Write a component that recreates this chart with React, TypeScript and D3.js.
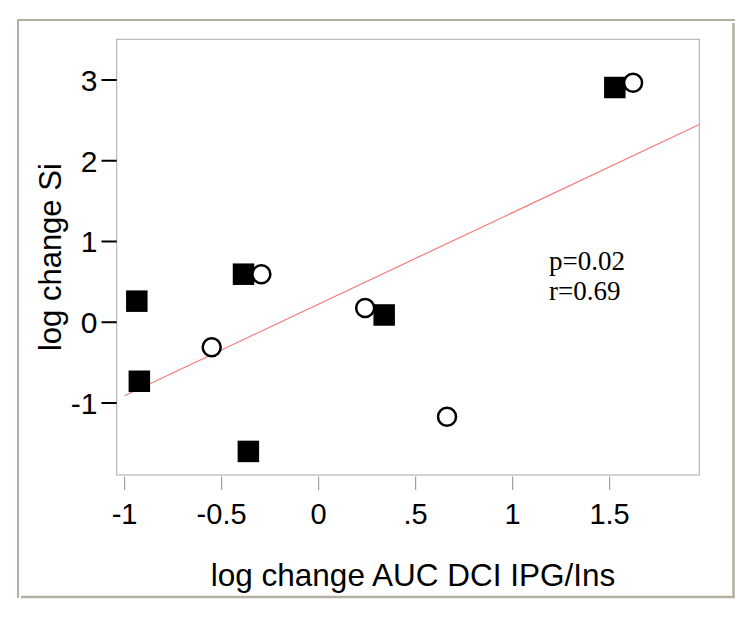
import React from "react";
import * as d3 from "d3";

// Data
const squaresX = [1.527, -0.937, -0.924, -0.387, -0.362, 0.338];
const squaresY = [2.907, 0.261, -0.731, 0.595, -1.6, 0.09];
const circlesX = [1.621, -0.295, -0.551, 0.24, 0.662];
const circlesY = [2.965, 0.594, -0.31, 0.177, -1.17];
const xTicks = [-1, -0.5, 0, 0.5, 1, 1.5];
const xTickLabels = ["-1", "-0.5", "0", ".5", "1", "1.5"];
const yTicks = [3, 2, 1, 0, -1];
const yTickLabels = ["3", "2", "1", "0", "-1"];
const fitIntercept = 0.224;
const fitSlope = 1.134;
const fitStartX = -1.0;
const xDomain = [-1.0407, 1.9624];
const yDomain = [-1.892, 3.504];
const statLines = ["p=0.02", "r=0.69"];

const W = 750;
const H = 624;
const plot = { left: 116.7, right: 699.3, top: 39.3, bottom: 475 };

export default function App() {
  const x = d3.scaleLinear().domain(xDomain).range([plot.left, plot.right]);
  const y = d3.scaleLinear().domain(yDomain).range([plot.bottom, plot.top]);
  const sq = 21.5;
  const frame = "#b3afa3";
  const line = d3
    .line<number>()
    .x((d) => x(d))
    .y((d) => y(fitIntercept + fitSlope * d));
  const sans = "'Liberation Sans', Arial, sans-serif";
  return (
    <svg
      width={W}
      height={H}
      style={{ position: "absolute", left: 0, top: 0, background: "#fff" }}
    >
      <rect x={0} y={0} width={W} height={H} fill="#fff" />
      {/* outer frame */}
      <line x1={17} x2={735} y1={20} y2={20} stroke={frame} strokeWidth={2} />
      <line x1={18} x2={18} y1={20} y2={598} stroke={frame} strokeWidth={2} />
      <line x1={733.5} x2={733.5} y1={23} y2={598} stroke={frame} strokeWidth={2.5} />
      <line x1={21} x2={735} y1={597} y2={597} stroke={frame} strokeWidth={2.5} />
      {/* plot frame */}
      <rect
        x={plot.left}
        y={plot.top}
        width={plot.right - plot.left}
        height={plot.bottom - plot.top}
        fill="none"
        stroke="#a9a9a9"
        strokeWidth={1}
      />
      {/* y axis */}
      {yTicks.map((t, i) => (
        <g key={"y" + i}>
          <line x1={101.5} x2={plot.left} y1={y(t)} y2={y(t)} stroke="#000" strokeWidth={2} />
          <text
            x={97.5}
            y={y(t)}
            dy="0.36em"
            textAnchor="end"
            fontFamily={sans}
            fontSize={30}
          >
            {yTickLabels[i]}
          </text>
        </g>
      ))}
      {/* x axis */}
      {xTicks.map((t, i) => (
        <g key={"x" + i}>
          <line x1={x(t)} x2={x(t)} y1={476.5} y2={490} stroke="#a0a0a0" strokeWidth={1.2} />
          <text
            x={x(t)}
            y={524}
            textAnchor="middle"
            fontFamily={sans}
            fontSize={29}
          >
            {xTickLabels[i]}
          </text>
        </g>
      ))}
      <text
        x={(plot.left + plot.right) / 2 + 5}
        y={586}
        textAnchor="middle"
        fontFamily={sans}
        fontSize={31.5}
      >
        log change AUC DCI IPG/Ins
      </text>
      <text
        transform={`translate(61,${(plot.top + plot.bottom) / 2}) rotate(-90)`}
        textAnchor="middle"
        fontFamily={sans}
        fontSize={31}
      >
        log change Si
      </text>
      {/* fit line */}
      <path
        d={line([fitStartX, xDomain[1]]) || ""}
        fill="none"
        stroke="#f47c7c"
        strokeWidth={1.2}
      />
      {/* points */}
      {squaresX.map((v, i) => (
        <rect
          key={"s" + i}
          x={x(v) - sq / 2}
          y={y(squaresY[i]) - sq / 2}
          width={sq}
          height={sq}
          fill="#000"
        />
      ))}
      {circlesX.map((v, i) => (
        <circle
          key={"c" + i}
          cx={x(v)}
          cy={y(circlesY[i])}
          r={9}
          fill="#fff"
          stroke="#000"
          strokeWidth={2.5}
        />
      ))}
      {/* stats */}
      {statLines.map((s, i) => (
        <text
          key={"t" + i}
          x={549}
          y={270 + i * 30}
          fontFamily="'Liberation Serif', 'Times New Roman', serif"
          fontSize={27}
        >
          {s}
        </text>
      ))}
    </svg>
  );
}
